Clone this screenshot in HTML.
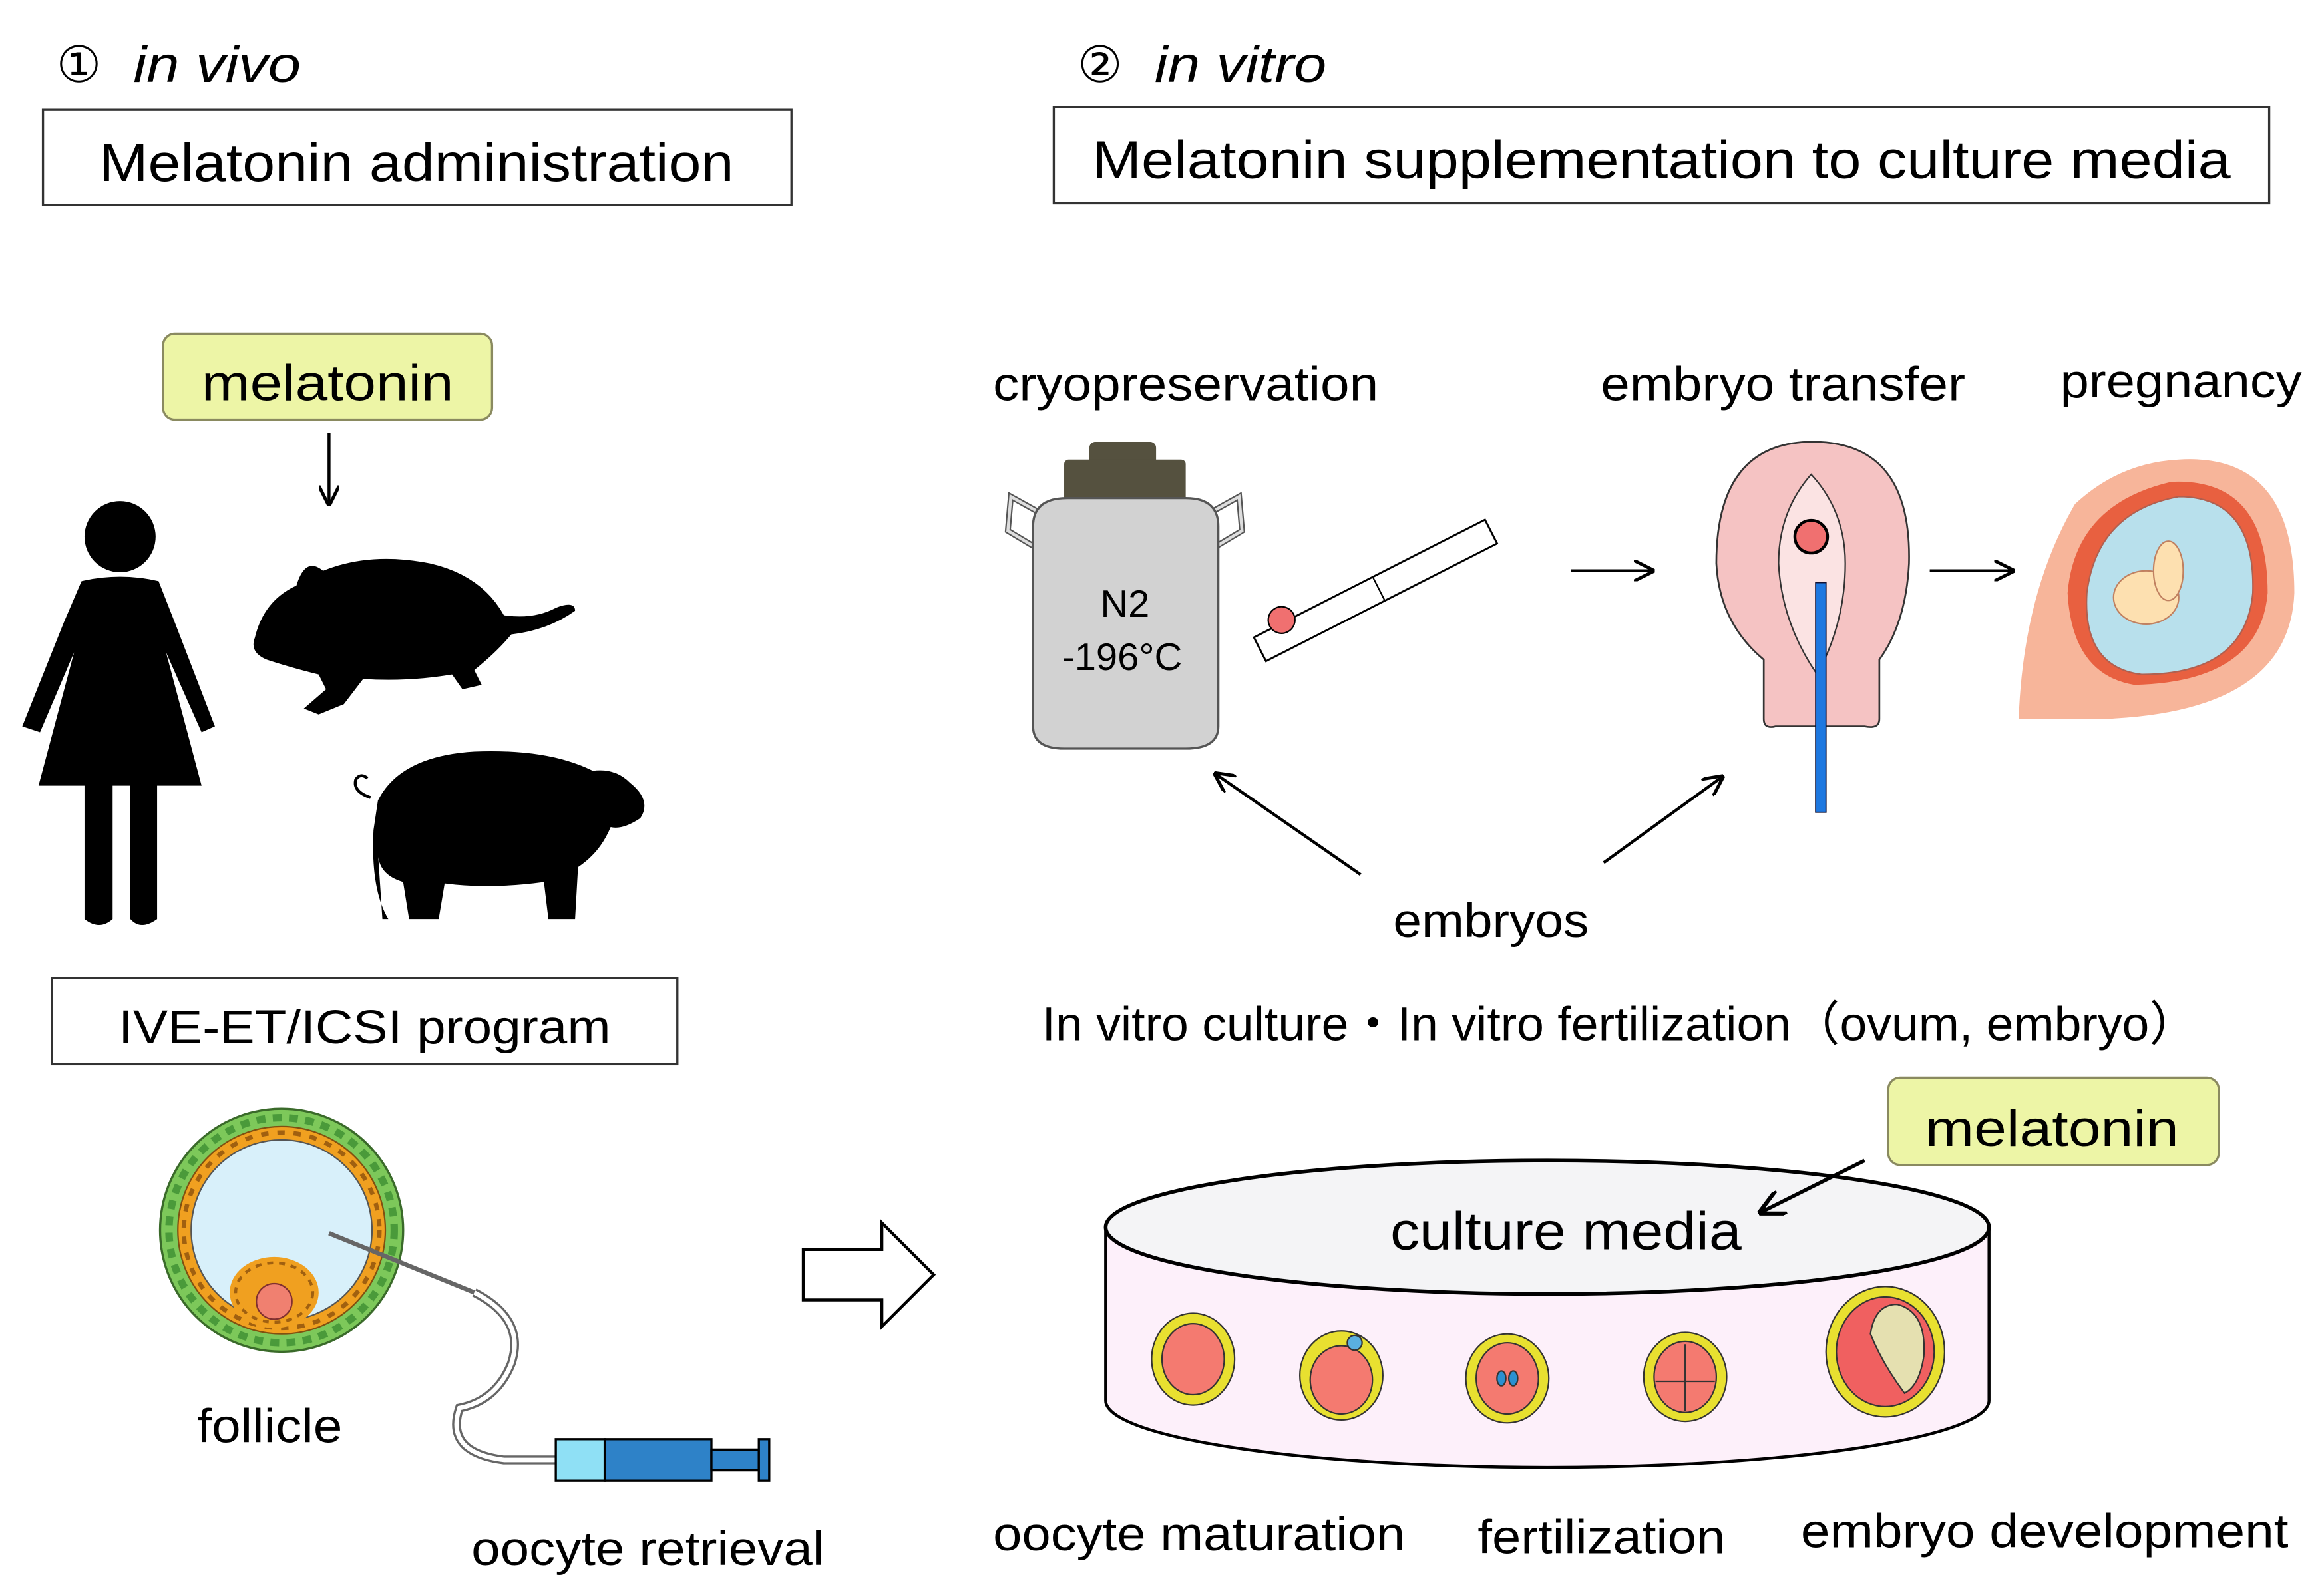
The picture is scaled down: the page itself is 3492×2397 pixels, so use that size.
<!DOCTYPE html>
<html><head><meta charset="utf-8"><style>html,body{margin:0;padding:0;background:#fff}svg{display:block}</style></head>
<body>
<svg width="3492" height="2397" viewBox="0 0 1568 1076" xmlns="http://www.w3.org/2000/svg" font-family="Liberation Sans, sans-serif">
<defs>
<marker id="ah" viewBox="0 0 10 10" refX="9" refY="5" markerWidth="7" markerHeight="7" orient="auto"><path d="M0,0 L10,5 L0,10" fill="none" stroke="#000" stroke-width="1.6"/></marker>
</defs>
<rect width="1568" height="1076" fill="#fff"/>
<!-- headers -->
<text x="38" y="55" font-size="34">①</text>
<text x="90" y="55" font-size="34" font-style="italic" textLength="113" lengthAdjust="spacingAndGlyphs">in vivo</text>
<rect x="29" y="74" width="505" height="64" fill="#fff" stroke="#333" stroke-width="1.5"/>
<text x="67" y="122" font-size="36" textLength="428" lengthAdjust="spacingAndGlyphs">Melatonin administration</text>
<text x="727" y="55" font-size="34">②</text>
<text x="779" y="55" font-size="34" font-style="italic" textLength="116" lengthAdjust="spacingAndGlyphs">in vitro</text>
<rect x="711" y="72" width="820" height="65" fill="#fff" stroke="#333" stroke-width="1.5"/>
<text x="737" y="120" font-size="36" textLength="768" lengthAdjust="spacingAndGlyphs">Melatonin supplementation to culture media</text>

<!-- melatonin box 1 -->
<rect x="110" y="225" width="222" height="58" rx="8" fill="#edf5a6" stroke="#8a8a60" stroke-width="1.5"/>
<text x="136" y="270" font-size="34" textLength="170" lengthAdjust="spacingAndGlyphs">melatonin</text>
<line x1="222" y1="292" x2="222" y2="340" stroke="#000" stroke-width="2" marker-end="url(#ah)"/>

<!-- woman -->
<g fill="#000">
<circle cx="81" cy="362" r="24"/>
<path d="M55,392 Q81,386 107,392 L118,420 L145,490 L136,494 L112,440 L136,530 L106,530 L106,620 Q95,628 88,620 L88,530 L76,530 L76,620 Q67,628 57,620 L57,530 L26,530 L50,440 L27,494 L15,490 L43,420 Z"/>
</g>
<!-- mouse -->
<path d="M172,430 Q178,405 200,395 Q206,375 218,385 Q250,372 290,380 Q325,388 340,415 Q360,418 375,410 Q388,405 388,412 Q370,425 345,428 Q335,440 320,452 L325,462 L312,465 L305,455 Q275,460 245,458 L232,475 L215,482 L205,478 L220,465 L215,455 Q195,450 180,445 Q168,440 172,430 Z" fill="#000"/>
<!-- pig -->
<path d="M255,540 Q270,510 320,507 Q370,505 400,520 Q415,518 425,528 Q440,540 432,552 Q420,560 412,558 Q405,575 390,585 L388,620 L370,620 L367,595 Q330,600 300,596 L296,620 L276,620 L272,595 Q255,590 255,575 L258,620 L262,620 Q250,600 252,560 Z" fill="#000"/>
<path d="M250,538 q-12,-4 -10,-12 q3,-5 8,-1" fill="none" stroke="#000" stroke-width="2"/>

<!-- IVE box -->
<rect x="35" y="660" width="422" height="58" fill="#fff" stroke="#333" stroke-width="1.5"/>
<text x="80" y="704" font-size="32" textLength="332" lengthAdjust="spacingAndGlyphs">IVE-ET/ICSI program</text>

<!-- follicle -->
<circle cx="190" cy="830" r="82" fill="#7dc85a" stroke="#3a6a2a" stroke-width="1.5"/>
<circle cx="190" cy="830" r="76" fill="none" stroke="#4a9a3a" stroke-width="5" stroke-dasharray="6 5"/>
<circle cx="190" cy="830" r="70" fill="#f0a020" stroke="#805010" stroke-width="1"/>
<circle cx="190" cy="830" r="66" fill="none" stroke="#a06010" stroke-width="3" stroke-dasharray="5 6"/>
<circle cx="190" cy="830" r="61" fill="#d8f0fa" stroke="#555" stroke-width="1"/>
<ellipse cx="185" cy="872" rx="30" ry="24" fill="#f0a020"/>
<ellipse cx="185" cy="872" rx="26" ry="20" fill="none" stroke="#a06010" stroke-width="2" stroke-dasharray="4 4"/>
<circle cx="185" cy="878" r="12" fill="#f08070" stroke="#803030"/>
<line x1="222" y1="832" x2="320" y2="872" stroke="#666" stroke-width="3"/>
<path d="M320,872 Q355,890 345,920 Q335,945 310,950 Q300,980 340,985 L375,985" fill="none" stroke="#666" stroke-width="6"/>
<path d="M320,872 Q355,890 345,920 Q335,945 310,950 Q300,980 340,985 L375,985" fill="none" stroke="#fff" stroke-width="3"/>
<rect x="375" y="971" width="33" height="28" fill="#8fe0f5" stroke="#000" stroke-width="1.5"/>
<rect x="408" y="971" width="72" height="28" fill="#2e82c8" stroke="#000" stroke-width="1.5"/>
<rect x="480" y="978" width="32" height="14" fill="#2e82c8" stroke="#000" stroke-width="1.5"/>
<rect x="512" y="971" width="7" height="28" fill="#2e82c8" stroke="#000" stroke-width="1.5"/>
<text x="133" y="973" font-size="32" textLength="98" lengthAdjust="spacingAndGlyphs">follicle</text>
<text x="318" y="1056" font-size="32" textLength="238" lengthAdjust="spacingAndGlyphs">oocyte retrieval</text>

<!-- hollow arrow -->
<path d="M542,843 L595,843 L595,825 L630,860 L595,895 L595,877 L542,877 Z" fill="#fff" stroke="#000" stroke-width="2"/>

<!-- top right labels -->
<text x="670" y="270" font-size="32" textLength="260" lengthAdjust="spacingAndGlyphs">cryopreservation</text>
<text x="1080" y="270" font-size="32" textLength="246" lengthAdjust="spacingAndGlyphs">embryo transfer</text>
<text x="1390" y="268" font-size="32" textLength="163" lengthAdjust="spacingAndGlyphs">pregnancy</text>

<!-- tank -->
<path d="M700,345 L682,335 L680,358 L700,370 M818,345 L836,335 L838,358 L818,370" fill="none" stroke="#555" stroke-width="4"/>
<path d="M700,345 L682,335 L680,358 L700,370 M818,345 L836,335 L838,358 L818,370" fill="none" stroke="#ddd" stroke-width="2"/>
<rect x="735" y="298" width="45" height="16" rx="4" fill="#55513f"/>
<rect x="718" y="310" width="82" height="30" rx="3" fill="#55513f"/>
<path d="M697,355 Q697,336 720,336 L800,336 Q822,336 822,355 L822,490 Q822,505 800,505 L718,505 Q697,505 697,490 Z" fill="#d2d2d2" stroke="#555" stroke-width="1.5"/>
<text x="759" y="416" font-size="26" text-anchor="middle">N2</text>
<text x="757" y="452" font-size="26" text-anchor="middle">-196°C</text>
<!-- straw -->
<g transform="translate(846,430) rotate(-27)">
<rect x="0" y="0" width="175" height="18" fill="#fff" stroke="#000" stroke-width="1.3"/>
<line x1="90" y1="0" x2="90" y2="18" stroke="#000"/>
<circle cx="22" cy="-2" r="9" fill="#f07070" stroke="#000"/>
</g>
<line x1="1060" y1="385" x2="1115" y2="385" stroke="#000" stroke-width="2" marker-end="url(#ah)"/>
<!-- uterus -->
<path d="M1223,298 Q1290,298 1288,380 Q1286,420 1268,445 L1268,485 Q1268,492 1258,490 L1198,490 Q1190,492 1190,485 L1190,445 Q1160,420 1158,380 Q1158,298 1223,298 Z" fill="#f5c3c3" stroke="#333" stroke-width="1.2"/>
<path d="M1222,320 Q1245,345 1245,380 Q1245,420 1226,455 Q1202,420 1200,380 Q1200,345 1222,320 Z" fill="#fbe3e3" stroke="#333" stroke-width="1"/>
<circle cx="1222" cy="362" r="11" fill="#f07070" stroke="#000" stroke-width="2"/>
<rect x="1225" y="393" width="7" height="155" fill="#1e78e0" stroke="#113" stroke-width="0.8"/>
<line x1="1302" y1="385" x2="1358" y2="385" stroke="#000" stroke-width="2" marker-end="url(#ah)"/>
<!-- pregnancy -->
<path d="M1470,310 Q1548,305 1548,400 Q1545,480 1420,485 L1362,485 Q1365,400 1400,340 Q1430,312 1470,310 Z" fill="#f7b59a"/>
<path d="M1465,325 Q1530,322 1530,400 Q1525,460 1440,462 Q1398,455 1395,400 Q1400,340 1465,325 Z" fill="#e86040"/>
<path d="M1470,335 Q1522,335 1520,400 Q1515,455 1445,455 Q1405,450 1408,400 Q1415,345 1470,335 Z" fill="#b8e0ec" stroke="#b06050"/>
<ellipse cx="1448" cy="403" rx="22" ry="18" fill="#fde0b0" stroke="#c08060"/>
<ellipse cx="1463" cy="385" rx="10" ry="20" fill="#fde0b0" stroke="#c08060"/>

<!-- embryos arrows -->
<line x1="918" y1="590" x2="820" y2="522" stroke="#000" stroke-width="2" marker-end="url(#ah)"/>
<line x1="1082" y1="582" x2="1162" y2="524" stroke="#000" stroke-width="2" marker-end="url(#ah)"/>
<text x="940" y="632" font-size="32" textLength="132" lengthAdjust="spacingAndGlyphs">embryos</text>
<text x="703" y="702" font-size="32" textLength="780" lengthAdjust="spacingAndGlyphs">In vitro culture・In vitro fertilization（ovum, embryo）</text>

<!-- melatonin box 2 -->
<rect x="1274" y="727" width="223" height="59" rx="8" fill="#edf5a6" stroke="#8a8a60" stroke-width="1.5"/>
<text x="1299" y="773" font-size="34" textLength="171" lengthAdjust="spacingAndGlyphs">melatonin</text>

<!-- cylinder -->
<path d="M746,828 L746,945 A298,45 0 0 0 1342,945 L1342,828 Z" fill="#fdf0fa" stroke="#000" stroke-width="2"/>
<ellipse cx="1044" cy="828" rx="298" ry="45" fill="#f4f4f6" stroke="#000" stroke-width="2.5"/>
<text x="938" y="843" font-size="36" textLength="237" lengthAdjust="spacingAndGlyphs">culture media</text>
<line x1="1258" y1="783" x2="1188" y2="818" stroke="#000" stroke-width="2.5" marker-end="url(#ah)"/>
<!-- cells -->
<g stroke="#333" stroke-width="1">
<ellipse cx="805" cy="917" rx="28" ry="31" fill="#e8e030"/><ellipse cx="805" cy="917" rx="21" ry="24" fill="#f47a70"/>
<ellipse cx="905" cy="928" rx="28" ry="30" fill="#e8e030"/><ellipse cx="905" cy="931" rx="21" ry="23" fill="#f47a70"/><circle cx="914" cy="906" r="5" fill="#5ab0e0"/>
<ellipse cx="1017" cy="930" rx="28" ry="30" fill="#e8e030"/><ellipse cx="1017" cy="930" rx="21" ry="24" fill="#f47a70"/><ellipse cx="1013" cy="930" rx="3" ry="5" fill="#2a90d0"/><ellipse cx="1021" cy="930" rx="3" ry="5" fill="#2a90d0"/>
<ellipse cx="1137" cy="929" rx="28" ry="30" fill="#e8e030"/><ellipse cx="1137" cy="929" rx="21" ry="24" fill="#f47a70"/><line x1="1137" y1="907" x2="1137" y2="952"/><line x1="1117" y1="932" x2="1157" y2="932"/>
<ellipse cx="1272" cy="912" rx="40" ry="44" fill="#e8e030"/><ellipse cx="1272" cy="912" rx="33" ry="37" fill="#f06060"/><path d="M1262,900 Q1265,880 1280,880 Q1300,885 1298,915 Q1295,935 1285,940 Q1270,920 1262,900 Z" fill="#e5e0b0"/>
</g>
<text x="670" y="1046" font-size="32" textLength="278" lengthAdjust="spacingAndGlyphs">oocyte maturation</text>
<text x="997" y="1048" font-size="32" textLength="167" lengthAdjust="spacingAndGlyphs">fertilization</text>
<text x="1215" y="1044" font-size="32" textLength="329" lengthAdjust="spacingAndGlyphs">embryo development</text>
</svg>
</body></html>
